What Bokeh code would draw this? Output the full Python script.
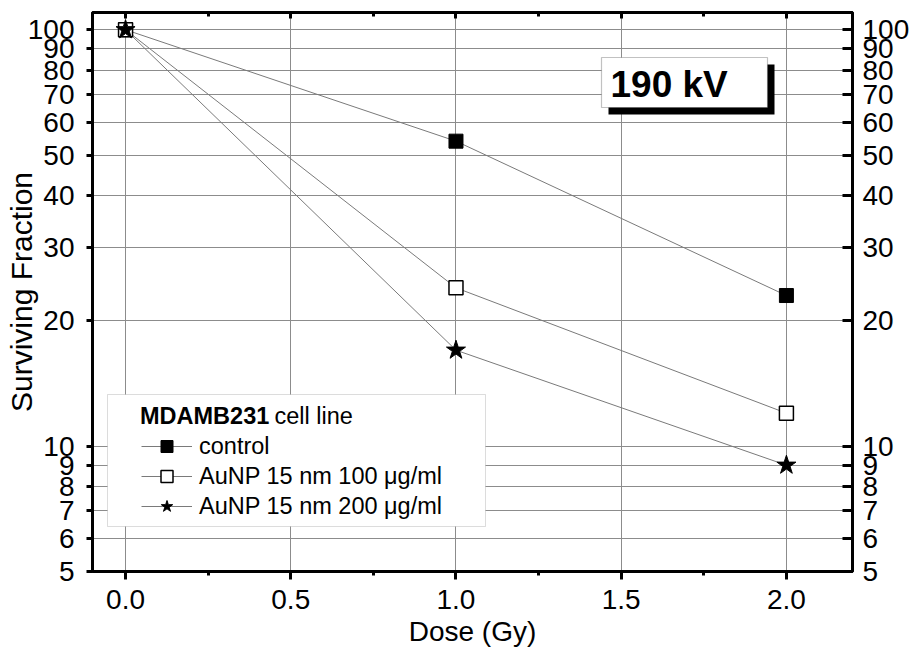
from bokeh.plotting import figure
from bokeh.models import (FixedTicker, LogAxis, LinearAxis, PrintfTickFormatter,
                          Legend, LegendItem, Label, BoxAnnotation)
from bokeh.embed import file_html
from bokeh.resources import INLINE

# ---- data ----
dose = [0.0, 1.0, 2.0]
control = [100, 54, 23]
aunp_100 = [100, 24, 12]
aunp_200 = [100, 17, 9]

x_ticks = [0.0, 0.5, 1.0, 1.5, 2.0]
x_minor_ticks = [0.25, 0.75, 1.25, 1.75]
y_ticks = [5, 6, 7, 8, 9, 10, 20, 30, 40, 50, 60, 70, 80, 90, 100]

series_names = ["control", "AuNP 15 nm 100 \u03bcg/ml", "AuNP 15 nm 200 \u03bcg/ml"]
legend_title_bold = "MDAMB231"
legend_title_rest = "cell line"
annotation_text = "190 kV"
x_label = "Dose (Gy)"
y_label = "Surviving Fraction"

FONT = "Liberation Sans"
GRID = "#8c8c8c"
LINE = "#7a7a7a"
TXT = "black"

p = figure(width=912, height=650, y_axis_type="log",
           x_range=(-0.1, 2.2), y_range=(5, 110),
           output_backend="svg", toolbar_location=None,
           min_border_left=92, min_border_right=59,
           min_border_top=12, min_border_bottom=79)
p.background_fill_color = "white"
p.border_fill_color = "white"
p.outline_line_color = "black"
p.outline_line_width = 3

# ---- bottom axis ----
xa = p.xaxis[0]
xa.ticker = FixedTicker(ticks=x_ticks, minor_ticks=x_minor_ticks)
xa.formatter = PrintfTickFormatter(format="%.1f")
xa.axis_label = x_label
xa.axis_label_text_font = FONT
xa.axis_label_text_font_size = "28px"
xa.axis_label_text_font_style = "normal"
xa.axis_label_text_color = TXT
xa.axis_label_text_line_height = 0.8
xa.axis_label_standoff = 4
xa.major_label_text_font = FONT
xa.major_label_text_font_size = "28px"
xa.major_label_text_color = TXT
xa.major_label_text_line_height = 0.8
xa.major_label_standoff = 10
xa.axis_line_width = 3
xa.major_tick_line_width = 3
xa.minor_tick_line_width = 3
xa.major_tick_out = 8
xa.major_tick_in = 0
xa.minor_tick_out = 4
xa.minor_tick_in = 0

# ---- left axis ----
ya = p.yaxis[0]
ya.ticker = FixedTicker(ticks=y_ticks, minor_ticks=[])
ya.formatter = PrintfTickFormatter(format="%d")
ya.axis_label = y_label
ya.axis_label_text_font = FONT
ya.axis_label_text_font_size = "30px"
ya.axis_label_text_font_style = "normal"
ya.axis_label_text_color = TXT
ya.axis_label_text_line_height = 0.8
ya.axis_label_standoff = -13
ya.major_label_text_font = FONT
ya.major_label_text_font_size = "28px"
ya.major_label_text_color = TXT
ya.major_label_standoff = 12
ya.axis_line_width = 3
ya.major_tick_line_width = 3
ya.major_tick_out = 6
ya.major_tick_in = 0
ya.minor_tick_line_color = None

# ---- right axis ----
ra = LogAxis(ticker=FixedTicker(ticks=y_ticks, minor_ticks=[]),
             formatter=PrintfTickFormatter(format="%d"))
ra.major_label_text_font = FONT
ra.major_label_text_font_size = "28px"
ra.major_label_text_color = TXT
ra.major_label_standoff = 10
ra.axis_line_width = 3
ra.major_tick_line_width = 3
ra.major_tick_in = 10
ra.major_tick_out = 0
ra.minor_tick_line_color = None
p.add_layout(ra, "right")

# ---- top axis ----
ta = LinearAxis(ticker=FixedTicker(ticks=x_ticks, minor_ticks=x_minor_ticks))
ta.major_label_text_color = None
ta.major_label_text_font_size = "0px"
ta.major_label_standoff = 0
ta.axis_line_width = 3
ta.major_tick_line_width = 3
ta.minor_tick_line_width = 3
ta.major_tick_in = 6
ta.major_tick_out = 0
ta.minor_tick_in = 4
ta.minor_tick_out = 0
p.add_layout(ta, "above")

# ---- grids ----
p.xgrid.ticker = FixedTicker(ticks=x_ticks)
p.ygrid.ticker = FixedTicker(ticks=y_ticks)
p.xgrid.grid_line_color = GRID
p.ygrid.grid_line_color = GRID
p.xgrid.grid_line_width = 1
p.ygrid.grid_line_width = 1

# ---- data series ----
l0 = p.line(dose, control, line_color=LINE, line_width=1)
l1 = p.line(dose, aunp_100, line_color=LINE, line_width=1)
l2 = p.line(dose, aunp_200, line_color=LINE, line_width=1)
m0 = p.scatter(dose, control, marker="square", size=14,
               fill_color="black", line_color="black", line_width=1)
m1 = p.scatter(dose, aunp_100, marker="square", size=14,
               fill_color="white", line_color="black", line_width=1.5)
m2 = p.scatter(dose, aunp_200, marker="star", size=20,
               fill_color="black", line_color="black", line_width=1)

# ---- "190 kV" box with shadow ----
p.add_layout(BoxAnnotation(left=516, right=682, bottom=457, top=507,
                           left_units="screen", right_units="screen",
                           bottom_units="screen", top_units="screen",
                           fill_color="black", fill_alpha=1, line_color=None))
p.add_layout(BoxAnnotation(left=509, right=675, bottom=464, top=514,
                           left_units="screen", right_units="screen",
                           bottom_units="screen", top_units="screen",
                           fill_color="white", fill_alpha=1,
                           line_color="#333333", line_width=1.2))
p.add_layout(Label(x=518, y=487.5, x_units="screen", y_units="screen",
                   text=annotation_text, text_font=FONT, text_font_size="37px",
                   text_font_style="bold", text_color="black",
                   text_align="left", text_baseline="alphabetic"))

# ---- legend ----
p.add_layout(BoxAnnotation(left=15, right=393, bottom=45, top=177,
                           left_units="screen", right_units="screen",
                           bottom_units="screen", top_units="screen",
                           fill_color="white", fill_alpha=1,
                           line_color="#8a8a8a", line_width=1))
p.add_layout(Label(x=47.5, y=156, x_units="screen", y_units="screen",
                   text=legend_title_bold, text_font=FONT, text_font_size="23.5px",
                   text_font_style="bold", text_color=TXT,
                   text_align="left", text_baseline="alphabetic"))
p.add_layout(Label(x=182, y=156, x_units="screen", y_units="screen",
                   text=legend_title_rest, text_font=FONT, text_font_size="23.5px",
                   text_color=TXT, text_align="left", text_baseline="alphabetic"))
legend = Legend(items=[LegendItem(label=series_names[0], renderers=[l0, m0]),
                       LegendItem(label=series_names[1], renderers=[l1, m1]),
                       LegendItem(label=series_names[2], renderers=[l2, m2])],
                location=(49, 50), padding=0, margin=0, spacing=0,
                glyph_width=51, glyph_height=30, label_height=30,
                label_standoff=7, label_text_font=FONT,
                label_text_font_size="23.5px", label_text_color=TXT,
                border_line_color=None, background_fill_alpha=0)
p.add_layout(legend)

open("out.html", "w").write(file_html(p, INLINE))
